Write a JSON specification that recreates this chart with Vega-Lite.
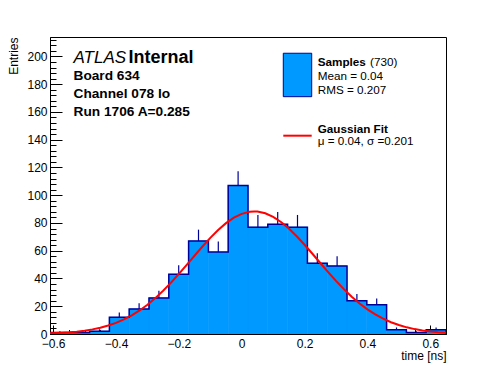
{
  "$schema": "https://vega.github.io/schema/vega-lite/v6.json",
  "width": 396,
  "height": 297,
  "autosize": {"type": "none"},
  "padding": {"left": 50, "top": 37, "right": 50, "bottom": 38},
  "background": "white",
  "config": {
    "font": "Liberation Sans",
    "view": {"stroke": "black", "strokeWidth": 1},
    "axis": {"grid": false, "domainColor": "black", "tickColor": "black", "labelColor": "black", "titleColor": "black", "labelFont": "Liberation Sans", "titleFont": "Liberation Sans", "labelFontSize": 12, "titleFontSize": 12, "titleFontWeight": "normal", "tickWidth": 1, "domainWidth": 1, "labelOverlap": false, "labelBound": false, "labelFlush": false}
  },
  "datasets": {
    "bins": [
      {"lo": -0.61, "hi": -0.547, "c": -0.5785, "n": 1, "up": 2},
      {"lo": -0.547, "hi": -0.484, "c": -0.5155, "n": 1, "up": 2},
      {"lo": -0.484, "hi": -0.421, "c": -0.4525, "n": 2, "up": 3.41},
      {"lo": -0.421, "hi": -0.358, "c": -0.3895, "n": 12, "up": 15.46},
      {"lo": -0.358, "hi": -0.295, "c": -0.3265, "n": 18, "up": 22.24},
      {"lo": -0.295, "hi": -0.232, "c": -0.2635, "n": 26, "up": 31.1},
      {"lo": -0.232, "hi": -0.169, "c": -0.2005, "n": 43, "up": 49.56},
      {"lo": -0.169, "hi": -0.106, "c": -0.1375, "n": 67, "up": 75.19},
      {"lo": -0.106, "hi": -0.043, "c": -0.0745, "n": 59, "up": 66.68},
      {"lo": -0.043, "hi": 0.02, "c": -0.0115, "n": 107, "up": 117.34},
      {"lo": 0.02, "hi": 0.083, "c": 0.0515, "n": 77, "up": 85.77},
      {"lo": 0.083, "hi": 0.146, "c": 0.1145, "n": 79, "up": 87.89},
      {"lo": 0.146, "hi": 0.209, "c": 0.1775, "n": 77, "up": 85.77},
      {"lo": 0.209, "hi": 0.272, "c": 0.2405, "n": 51, "up": 58.14},
      {"lo": 0.272, "hi": 0.335, "c": 0.3035, "n": 49, "up": 56},
      {"lo": 0.335, "hi": 0.398, "c": 0.3665, "n": 24, "up": 28.9},
      {"lo": 0.398, "hi": 0.461, "c": 0.4295, "n": 21, "up": 25.58},
      {"lo": 0.461, "hi": 0.524, "c": 0.4925, "n": 3, "up": 4.73},
      {"lo": 0.524, "hi": 0.587, "c": 0.5555, "n": 1, "up": 2},
      {"lo": 0.587, "hi": 0.65, "c": 0.6185, "n": 3, "up": 4.73}
    ],
    "outline": [
      {"k": 0, "e": -0.61, "v": 0},
      {"k": 1, "e": -0.61, "v": 1},
      {"k": 2, "e": -0.547, "v": 1},
      {"k": 3, "e": -0.484, "v": 2},
      {"k": 4, "e": -0.421, "v": 12},
      {"k": 5, "e": -0.358, "v": 18},
      {"k": 6, "e": -0.295, "v": 26},
      {"k": 7, "e": -0.232, "v": 43},
      {"k": 8, "e": -0.169, "v": 67},
      {"k": 9, "e": -0.106, "v": 59},
      {"k": 10, "e": -0.043, "v": 107},
      {"k": 11, "e": 0.02, "v": 77},
      {"k": 12, "e": 0.083, "v": 79},
      {"k": 13, "e": 0.146, "v": 77},
      {"k": 14, "e": 0.209, "v": 51},
      {"k": 15, "e": 0.272, "v": 49},
      {"k": 16, "e": 0.335, "v": 24},
      {"k": 17, "e": 0.398, "v": 21},
      {"k": 18, "e": 0.461, "v": 3},
      {"k": 19, "e": 0.524, "v": 1},
      {"k": 20, "e": 0.587, "v": 3},
      {"k": 21, "e": 0.65, "v": 3},
      {"k": 22, "e": 0.65, "v": 0}
    ],
    "fit": [
      {"x": -0.61, "y": 0.47}, {"x": -0.575, "y": 0.82}, {"x": -0.55, "y": 1.19}, {"x": -0.525, "y": 1.7},
      {"x": -0.5, "y": 2.39}, {"x": -0.475, "y": 3.32}, {"x": -0.45, "y": 4.53}, {"x": -0.425, "y": 6.08},
      {"x": -0.4, "y": 8.04}, {"x": -0.375, "y": 10.48}, {"x": -0.35, "y": 13.44}, {"x": -0.325, "y": 16.98},
      {"x": -0.3, "y": 21.12}, {"x": -0.275, "y": 25.86}, {"x": -0.25, "y": 31.19}, {"x": -0.225, "y": 37.03},
      {"x": -0.2, "y": 43.29}, {"x": -0.175, "y": 49.83}, {"x": -0.15, "y": 56.49}, {"x": -0.125, "y": 63.04},
      {"x": -0.1, "y": 69.28}, {"x": -0.075, "y": 74.97}, {"x": -0.05, "y": 79.88}, {"x": -0.025, "y": 83.8},
      {"x": 0, "y": 86.57}, {"x": 0.025, "y": 88.06}, {"x": 0.04, "y": 88.3}, {"x": 0.05, "y": 88.19},
      {"x": 0.075, "y": 86.97}, {"x": 0.1, "y": 84.45}, {"x": 0.125, "y": 80.75}, {"x": 0.15, "y": 76.02},
      {"x": 0.175, "y": 70.47}, {"x": 0.2, "y": 64.32}, {"x": 0.225, "y": 57.81}, {"x": 0.25, "y": 51.16},
      {"x": 0.275, "y": 44.58}, {"x": 0.3, "y": 38.25}, {"x": 0.325, "y": 32.31}, {"x": 0.35, "y": 26.88},
      {"x": 0.375, "y": 22.02}, {"x": 0.4, "y": 17.76}, {"x": 0.425, "y": 14.1}, {"x": 0.45, "y": 11.03},
      {"x": 0.475, "y": 8.49}, {"x": 0.5, "y": 6.44}, {"x": 0.525, "y": 4.8}, {"x": 0.55, "y": 3.53},
      {"x": 0.575, "y": 2.56}, {"x": 0.6, "y": 1.82}, {"x": 0.625, "y": 1.28}, {"x": 0.65, "y": 0.88}
    ],
    "one": [{}]
  },
  "layer": [
    {
      "data": {"name": "bins"},
      "mark": {"type": "rect", "fill": "#0099ff", "stroke": "#0099ff", "strokeWidth": 0.6, "clip": true},
      "encoding": {
        "x": {
          "field": "lo", "type": "quantitative",
          "scale": {"domain": [-0.61, 0.65], "nice": false, "zero": false},
          "axis": {
            "title": "time [ns]",
            "values": [-0.6, -0.55, -0.5, -0.45, -0.4, -0.35, -0.3, -0.25, -0.2, -0.15, -0.1, -0.05, 0, 0.05, 0.1, 0.15, 0.2, 0.25, 0.3, 0.35, 0.4, 0.45, 0.5, 0.55, 0.6, 0.65],
            "tickCount": 500,
            "format": "~g",
            "labelExpr": "abs(datum.value*5 - round(datum.value*5)) < 0.001 ? datum.label : ''",
            "tickSize": {"condition": {"test": "abs(datum.value*5 - round(datum.value*5)) < 0.001", "value": -9}, "value": -4.5},
            "labelPadding": 13,
            "labelFlush": false,
            "labelOverlap": false,
            "labelBound": false,
            "titleAnchor": "end",
            "titleAlign": "right",
            "titleX": 396,
            "titleY": 21,
            "titleBaseline": "middle"
          }
        },
        "x2": {"field": "hi"},
        "y": {
          "field": "n", "type": "quantitative",
          "scale": {"domain": [0, 214], "nice": false},
          "axis": {
            "title": "Entries",
            "values": [0, 4, 8, 12, 16, 20, 24, 28, 32, 36, 40, 44, 48, 52, 56, 60, 64, 68, 72, 76, 80, 84, 88, 92, 96, 100, 104, 108, 112, 116, 120, 124, 128, 132, 136, 140, 144, 148, 152, 156, 160, 164, 168, 172, 176, 180, 184, 188, 192, 196, 200, 204, 208, 212],
            "tickCount": 500,
            "format": "d",
            "labelExpr": "datum.value % 20 == 0 ? datum.label : ''",
            "tickSize": {"condition": {"test": "datum.value % 20 == 0", "value": -12}, "value": -6},
            "labelPadding": 15,
            "labelFlush": false,
            "labelOverlap": false,
            "labelBound": false,
            "titleAnchor": "end",
            "titleAlign": "right",
            "titleAngle": -90,
            "titleX": -37,
            "titleY": 0,
            "titleBaseline": "middle"
          }
        },
        "y2": {"datum": 0}
      }
    },
    {
      "data": {"name": "outline"},
      "mark": {"type": "line", "interpolate": "step-after", "stroke": "#000099", "strokeWidth": 1.5, "clip": true},
      "encoding": {
        "x": {"field": "e", "type": "quantitative"},
        "y": {"field": "v", "type": "quantitative"},
        "order": {"field": "k", "type": "quantitative"}
      }
    },
    {
      "data": {"name": "bins"},
      "mark": {"type": "rule", "stroke": "#000099", "strokeWidth": 1.2, "clip": true},
      "encoding": {
        "x": {"field": "c", "type": "quantitative"},
        "y": {"field": "n", "type": "quantitative"},
        "y2": {"field": "up"}
      }
    },
    {
      "data": {"name": "fit"},
      "mark": {"type": "line", "stroke": "#ff0000", "strokeWidth": 2, "clip": true},
      "encoding": {
        "x": {"field": "x", "type": "quantitative"},
        "y": {"field": "y", "type": "quantitative"}
      }
    },
    {
      "data": {"name": "one"},
      "mark": {"type": "text", "align": "left", "baseline": "middle", "fontSize": 17, "fontStyle": "italic", "font": "Liberation Sans", "color": "black"},
      "encoding": {"x": {"datum": -0.5352, "type": "quantitative"}, "y": {"datum": 198.9, "type": "quantitative"}, "text": {"value": "ATLAS"}}
    },
    {
      "data": {"name": "one"},
      "mark": {"type": "text", "align": "left", "baseline": "middle", "fontSize": 18, "fontWeight": "bold", "font": "Liberation Sans", "color": "black"},
      "encoding": {"x": {"datum": -0.3602, "type": "quantitative"}, "y": {"datum": 198.9, "type": "quantitative"}, "text": {"value": "Internal"}}
    },
    {
      "data": {"name": "one"},
      "mark": {"type": "text", "align": "left", "baseline": "middle", "fontSize": 13.7, "fontWeight": "bold", "font": "Liberation Sans", "color": "black"},
      "encoding": {"x": {"datum": -0.5352, "type": "quantitative"}, "y": {"datum": 186.2, "type": "quantitative"}, "text": {"value": "Board 634"}}
    },
    {
      "data": {"name": "one"},
      "mark": {"type": "text", "align": "left", "baseline": "middle", "fontSize": 13.7, "fontWeight": "bold", "font": "Liberation Sans", "color": "black"},
      "encoding": {"x": {"datum": -0.5352, "type": "quantitative"}, "y": {"datum": 173.2, "type": "quantitative"}, "text": {"value": "Channel 078 lo"}}
    },
    {
      "data": {"name": "one"},
      "mark": {"type": "text", "align": "left", "baseline": "middle", "fontSize": 13.7, "fontWeight": "bold", "font": "Liberation Sans", "color": "black"},
      "encoding": {"x": {"datum": -0.5352, "type": "quantitative"}, "y": {"datum": 160.2, "type": "quantitative"}, "text": {"value": "Run 1706 A=0.285"}}
    },
    {
      "data": {"name": "one"},
      "mark": {"type": "rect", "fill": "#0099ff", "stroke": "#000099", "strokeWidth": 1},
      "encoding": {"x": {"datum": 0.1323, "type": "quantitative"}, "x2": {"datum": 0.2227}, "y": {"datum": 202.3, "type": "quantitative"}, "y2": {"datum": 171.0}}
    },
    {
      "data": {"name": "one"},
      "mark": {"type": "rule", "stroke": "#ff0000", "strokeWidth": 2},
      "encoding": {"x": {"datum": 0.1323, "type": "quantitative"}, "x2": {"datum": 0.2227}, "y": {"datum": 142.9, "type": "quantitative"}}
    },
    {
      "data": {"name": "one"},
      "mark": {"type": "text", "align": "left", "baseline": "middle", "fontSize": 11.7, "fontWeight": "bold", "font": "Liberation Sans", "color": "black"},
      "encoding": {"x": {"datum": 0.2418, "type": "quantitative"}, "y": {"datum": 196.0, "type": "quantitative"}, "text": {"value": "Samples"}}
    },
    {
      "data": {"name": "one"},
      "mark": {"type": "text", "align": "left", "baseline": "middle", "fontSize": 11.7, "font": "Liberation Sans", "color": "black"},
      "encoding": {"x": {"datum": 0.4082, "type": "quantitative"}, "y": {"datum": 196.0, "type": "quantitative"}, "text": {"value": "(730)"}}
    },
    {
      "data": {"name": "one"},
      "mark": {"type": "text", "align": "left", "baseline": "middle", "fontSize": 11.7, "font": "Liberation Sans", "color": "black"},
      "encoding": {"x": {"datum": 0.2418, "type": "quantitative"}, "y": {"datum": 185.9, "type": "quantitative"}, "text": {"value": "Mean = 0.04"}}
    },
    {
      "data": {"name": "one"},
      "mark": {"type": "text", "align": "left", "baseline": "middle", "fontSize": 11.7, "font": "Liberation Sans", "color": "black"},
      "encoding": {"x": {"datum": 0.2418, "type": "quantitative"}, "y": {"datum": 175.8, "type": "quantitative"}, "text": {"value": "RMS = 0.207"}}
    },
    {
      "data": {"name": "one"},
      "mark": {"type": "text", "align": "left", "baseline": "middle", "fontSize": 11.7, "fontWeight": "bold", "font": "Liberation Sans", "color": "black"},
      "encoding": {"x": {"datum": 0.2418, "type": "quantitative"}, "y": {"datum": 147.5, "type": "quantitative"}, "text": {"value": "Gaussian Fit"}}
    },
    {
      "data": {"name": "one"},
      "mark": {"type": "text", "align": "left", "baseline": "middle", "fontSize": 11.7, "font": "Liberation Sans", "color": "black"},
      "encoding": {"x": {"datum": 0.2418, "type": "quantitative"}, "y": {"datum": 139.1, "type": "quantitative"}, "text": {"value": "μ = 0.04, σ =0.201"}}
    }
  ]
}
